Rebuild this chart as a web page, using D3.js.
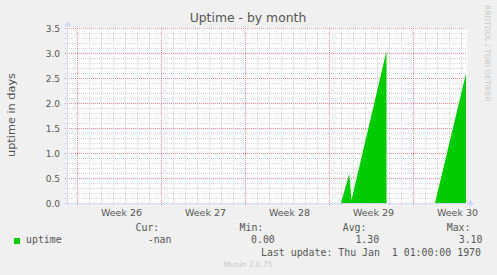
<!DOCTYPE html>
<html>
<head>
<meta charset="utf-8">
<script src="https://cdnjs.cloudflare.com/ajax/libs/d3/7.8.5/d3.min.js"></script>
<style>
body { margin:0; background:#f0f0f0; }
text { font-family: "DejaVu Sans", sans-serif; fill:#555; }
.mono { font-family: "DejaVu Sans Mono", monospace; font-size:9.9px; }
</style>
</head>
<body>
<div id="graph"></div>
<script>
!(function(){
"use strict"

// samples (uptime in days), null = no data
var sampleTimes = [
	"2025-07-15T00:00Z", "2025-07-15T16:30Z", "2025-07-15T21:00Z", "2025-07-18T19:00Z",
	"2025-07-18T20:00Z",
	"2025-07-22T20:00Z", "2025-07-25T10:00Z"
]
var uptimeDays = [0, 0.58, 0.06, 3.04, null, 0, 2.59]

var rangeStart = "2025-06-22T04:00Z"
var rangeEnd = "2025-07-25T12:00Z"
var yTickValues = [0, 0.5, 1, 1.5, 2, 2.5, 3, 3.5]
var legendHeaders = ["Cur:", "Min:", "Avg:", "Max:"]
var legendValues = ["-nan", "0.00", "1.30", "3.10"]
var seriesName = "uptime"
var seriesColor = "#00cc00"

var width = 497, height = 275
var margin = {left:67, top:28, right:30, bottom:72}
var chartWidth = 400, chartHeight = 175

var svg = d3.select("#graph").append("svg")
	.attr("width", width).attr("height", height)
svg.append("rect").attr("width", width).attr("height", height).attr("fill", "#f0f0f0")

var x = d3.scaleUtc()
	.domain([new Date(rangeStart), new Date(rangeEnd)])
	.range([margin.left, margin.left + chartWidth])
var y = d3.scaleLinear()
	.domain([0, 3.5])
	.range([margin.top + chartHeight, margin.top])

function px(v) { return Math.round(v) + 0.5 }

// canvas
svg.append("rect")
	.attr("x", margin.left).attr("y", margin.top)
	.attr("width", chartWidth).attr("height", chartHeight)
	.attr("fill", "#fff")

var grid = svg.append("g").attr("shape-rendering", "crispEdges")
var minorColor = "rgba(128,128,128,0.32)"
var majorColor = "rgba(240,50,50,0.45)"

var days = d3.utcDay.range(x.domain()[0], x.domain()[1])
var mondays = d3.utcMonday.range(x.domain()[0], x.domain()[1])
var yMinor = d3.range(1, 35).map(function(i){ return i / 10 })

grid.selectAll(".hminor").data(yMinor).enter().append("line")
	.attr("x1", margin.left - 2).attr("x2", margin.left + chartWidth)
	.attr("y1", function(d){ return px(y(d)) }).attr("y2", function(d){ return px(y(d)) })
	.attr("stroke", minorColor).attr("stroke-dasharray", "1,1")
grid.selectAll(".vminor").data(days).enter().append("line")
	.attr("x1", function(d){ return px(x(d)) }).attr("x2", function(d){ return px(x(d)) })
	.attr("y1", margin.top).attr("y2", margin.top + chartHeight + 2)
	.attr("stroke", minorColor).attr("stroke-dasharray", "1,1")
grid.selectAll(".hmajor").data(yTickValues.slice(1)).enter().append("line")
	.attr("x1", margin.left - 2).attr("x2", margin.left + chartWidth)
	.attr("y1", function(d){ return px(y(d)) }).attr("y2", function(d){ return px(y(d)) })
	.attr("stroke", majorColor).attr("stroke-dasharray", "1,1")
grid.selectAll(".vmajor").data(mondays).enter().append("line")
	.attr("x1", function(d){ return px(x(d)) }).attr("x2", function(d){ return px(x(d)) })
	.attr("y1", margin.top).attr("y2", margin.top + chartHeight + 3)
	.attr("stroke", majorColor).attr("stroke-dasharray", "1,1")

// data area
var data = sampleTimes.map(function(t, i){ return {t: new Date(t), v: uptimeDays[i]} })
var area = d3.area()
	.defined(function(d){ return d.v !== null })
	.x(function(d){ return x(d.t) })
	.y0(y(0))
	.y1(function(d){ return y(d.v) })
svg.append("path").datum(data)
	.attr("d", area)
	.attr("fill", seriesColor)

// axes lines + arrows
var axisColor = "#cfd6f8"
var ax = svg.append("g").attr("shape-rendering", "crispEdges")
ax.append("line")
	.attr("x1", margin.left - 3).attr("x2", margin.left + chartWidth + 3)
	.attr("y1", px(y(0))).attr("y2", px(y(0)))
	.attr("stroke", axisColor)
ax.append("line")
	.attr("x1", px(margin.left)).attr("x2", px(margin.left))
	.attr("y1", margin.top + chartHeight + 3).attr("y2", margin.top - 4)
	.attr("stroke", axisColor)
svg.append("path")
	.attr("d", "M469,200L474,203.5L469,207Z")
	.attr("fill", axisColor)
svg.append("path")
	.attr("d", "M64,26L67.5,21L71,26Z")
	.attr("fill", axisColor)

// y tick labels
var yAxis = svg.append("g")
	.attr("transform", "translate(" + margin.left + ",0)")
	.call(d3.axisLeft(y).tickValues(yTickValues).tickFormat(d3.format(".1f")).tickSize(0).tickPadding(7))
yAxis.select(".domain").remove()
yAxis.selectAll("text")
	.attr("dy", "0.41em")
	.style("font-family", "DejaVu Sans").style("font-size", "9px").attr("fill", "#555")

// week labels, centred inside each week
var labelTimes = mondays.map(function(d){ return d3.utcHour.offset(d, 88) })
var xAxis = svg.append("g")
	.attr("transform", "translate(0," + (margin.top + chartHeight) + ")")
	.call(d3.axisBottom(x).tickValues(labelTimes).tickFormat(d3.utcFormat("Week %V")).tickSize(0).tickPadding(6))
xAxis.select(".domain").remove()
xAxis.selectAll("text")
	.style("font-family", "DejaVu Sans").style("font-size", "9.5px").attr("fill", "#555")

// title and side texts
svg.append("text")
	.attr("x", 248).attr("y", 22)
	.attr("text-anchor", "middle")
	.style("font-size", "12.4px")
	.text("Uptime - by month")
svg.append("text")
	.attr("transform", "translate(15,115) rotate(-90)")
	.attr("text-anchor", "middle")
	.style("font-size", "11.3px")
	.text("uptime in days")
svg.append("text")
	.attr("transform", "translate(485,5) rotate(90)")
	.style("font-size", "7.5px")
	.style("fill", "#c8c8c8")
	.text("RRDTOOL / TOBI OETIKER")

// legend
var headerX = [135.5, 239.5, 342.7, 446.7]
var valueX = [147.7, 251, 355.4, 458.7]
svg.selectAll(".lh").data(legendHeaders).enter().append("text")
	.attr("class", "mono")
	.attr("x", function(d, i){ return headerX[i] }).attr("y", 231.4)
	.text(function(d){ return d })
svg.selectAll(".lv").data(legendValues).enter().append("text")
	.attr("class", "mono")
	.attr("x", function(d, i){ return valueX[i] }).attr("y", 243.3)
	.text(function(d){ return d })
svg.append("rect")
	.attr("x", 14).attr("y", 238).attr("width", 6).attr("height", 6)
	.attr("fill", seriesColor)
svg.append("text")
	.attr("class", "mono")
	.attr("x", 26).attr("y", 243.3)
	.text(seriesName)
svg.append("text")
	.attr("class", "mono")
	.attr("x", 261).attr("y", 255.5)
	.style("white-space", "pre").attr("xml:space", "preserve")
	.text("Last update: Thu Jan  1 01:00:00 1970")
svg.append("text")
	.attr("x", 248).attr("y", 267)
	.attr("text-anchor", "middle")
	.style("font-size", "7.5px").style("fill", "#c8c8c8")
	.text("Munin 2.0.75")
}());
</script>
</body>
</html>
